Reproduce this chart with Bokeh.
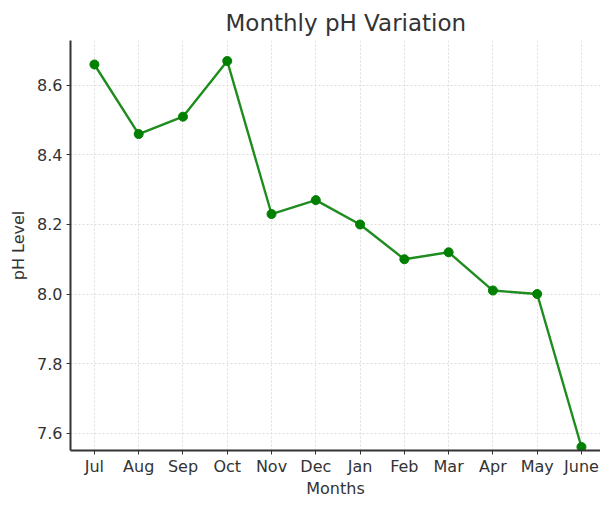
from bokeh.plotting import figure
from bokeh.models import FixedTicker, Range1d, CustomJSTickFormatter
from bokeh.embed import file_html
from bokeh.resources import INLINE

months = ["Jul", "Aug", "Sep", "Oct", "Nov", "Dec", "Jan", "Feb", "Mar", "Apr", "May", "June"]
ph_values = [8.66, 8.46, 8.51, 8.67, 8.23, 8.27, 8.20, 8.10, 8.12, 8.01, 8.00, 7.56]
y_ticks = [7.6, 7.8, 8.0, 8.2, 8.4, 8.6]

x_idx = list(range(len(months)))

FONT = "DejaVu Sans"

p = figure(width=600, height=500, output_backend="svg", toolbar_location=None,
           x_range=Range1d(-0.54, 11.43), y_range=Range1d(7.55, 8.729),
           min_border=0, min_border_left=70, min_border_right=0, min_border_top=40,
           min_border_bottom=0)

p.title.text = "Monthly pH Variation"
p.title.align = "left"
p.title.offset = 155
p.title.text_font = FONT
p.title.text_font_size = "23px"
p.title.text_font_style = "normal"
p.title.text_color = "#333333"
p.title.standoff = 10

p.outline_line_color = None
p.background_fill_color = "white"
p.border_fill_color = "white"

p.line(x_idx, ph_values, line_color="#1f8c1f", line_width=2.4)
p.scatter(x_idx, ph_values, size=9, fill_color="#008000", line_color="#008000")

p.xaxis.ticker = FixedTicker(ticks=x_idx)
p.xaxis.major_label_overrides = {i: m for i, m in enumerate(months)}
p.yaxis.ticker = FixedTicker(ticks=y_ticks)
p.yaxis.formatter = CustomJSTickFormatter(code="return tick.toFixed(1);")

p.xaxis.axis_label = "Months"
p.yaxis.axis_label = "pH Level"

for ax in (p.xaxis, p.yaxis):
    ax.axis_line_color = "#333333"
    ax.axis_line_width = 2
    ax.major_tick_line_color = "#333333"
    ax.major_tick_line_width = 1
    ax.major_tick_out = 4
    ax.major_tick_in = 0
    ax.minor_tick_line_color = None
    ax.major_label_text_font = FONT
    ax.major_label_text_font_size = "16px"
    ax.major_label_text_color = "#333333"
    ax.axis_label_text_font = FONT
    ax.axis_label_text_font_size = "16px"
    ax.axis_label_text_font_style = "normal"
    ax.axis_label_text_color = "#333333"

p.xaxis.major_label_standoff = 2
p.xaxis.axis_label_standoff = 0
p.yaxis.major_label_standoff = 4
p.yaxis.axis_label_standoff = 6

for g in (p.xgrid, p.ygrid):
    g.grid_line_color = "#d9d9d9"
    g.grid_line_dash = "2 2"
    g.grid_line_width = 1
    g.grid_line_alpha = 0.9

open("out.html", "w").write(file_html(p, INLINE))
